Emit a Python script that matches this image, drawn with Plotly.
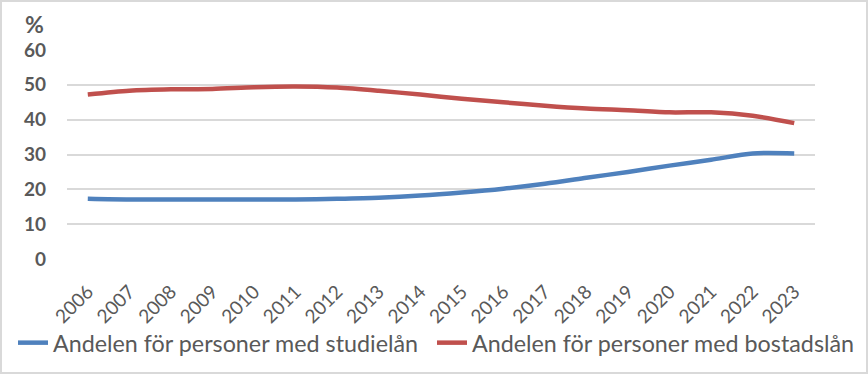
import plotly.graph_objects as go

years = [str(y) for y in range(2006, 2024)]
studielan = [17.3, 17.1, 17.1, 17.1, 17.1, 17.1, 17.3, 17.6, 18.2, 19.1, 20.2, 21.6, 23.3, 25.0, 26.8, 28.5, 30.3, 30.3]
bostadslan = [47.2, 48.3, 48.7, 48.8, 49.3, 49.5, 49.2, 48.3, 47.2, 46.0, 45.0, 44.0, 43.2, 42.7, 42.1, 42.1, 41.1, 39.0]
y_ticks = [0, 10, 20, 30, 40, 50, 60]

names = ["Andelen för personer med studielån", "Andelen för personer med bostadslån"]
colors = ["#4F81BD", "#C0504D"]

W, H = 868, 374
L, R, T, B = 67, 53, 50, 115
pw = W - L - R
ph = H - T - B

fig = go.Figure()
for name, vals, col, lg in zip(names, [studielan, bostadslan], colors, ["legend", "legend2"]):
    fig.add_trace(go.Scatter(x=years, y=vals, name=name, mode="lines", legend=lg,
                             line=dict(color=col, width=4.5, shape="spline", smoothing=0.8)))

font_fam = "Lato, 'Open Sans', sans-serif"
leg_common = dict(orientation="h", xref="container", yref="container",
                  xanchor="left", y=1 - 343 / H, yanchor="middle",
                  font=dict(size=23.3, color="#595959"), itemwidth=30,
                  bgcolor="rgba(0,0,0,0)")
fig.update_layout(
    width=W, height=H,
    margin=dict(l=L, r=R, t=T, b=B, autoexpand=False),
    paper_bgcolor="white", plot_bgcolor="white",
    font=dict(family=font_fam, color="#595959"),
    showlegend=True,
    legend=dict(x=13 / W, **leg_common),
    legend2=dict(x=432 / W, **leg_common),
    xaxis=dict(type="category", range=[-0.5, len(years) - 0.5], automargin=False,
               tickangle=-45, showgrid=False, showline=False,
               zeroline=False, ticks="", ticklabelstandoff=17,
               tickfont=dict(size=19, color="#595959")),
    yaxis=dict(range=[0, 60], tickvals=y_ticks, automargin=False, showgrid=True, gridcolor="#D9D9D9",
               gridwidth=1.5, zeroline=False, showline=False, ticks="",
               ticklabelstandoff=20,
               tickfont=dict(size=19, color="#595959", family="Lato, sans-serif", weight="bold")),
    annotations=[dict(text="<b>%</b>", xref="paper", yref="paper",
                      x=(34 - L) / pw, y=1 + (T - 24) / ph, showarrow=False,
                      xanchor="center", yanchor="middle",
                      font=dict(size=23, color="#595959"))],
    shapes=[dict(type="rect", xref="paper", yref="paper",
                 x0=(1 - L) / pw, x1=(W - 1 - L) / pw,
                 y0=-(H - 1 - T - ph) / ph, y1=1 + (T - 1) / ph,
                 line=dict(color="#D9D9D9", width=2), fillcolor="rgba(0,0,0,0)", layer="below")],
)

fig.write_html("out.html", config={"displayModeBar": False},
               post_script="document.body.style.margin='0';document.body.style.overflow='hidden';")
